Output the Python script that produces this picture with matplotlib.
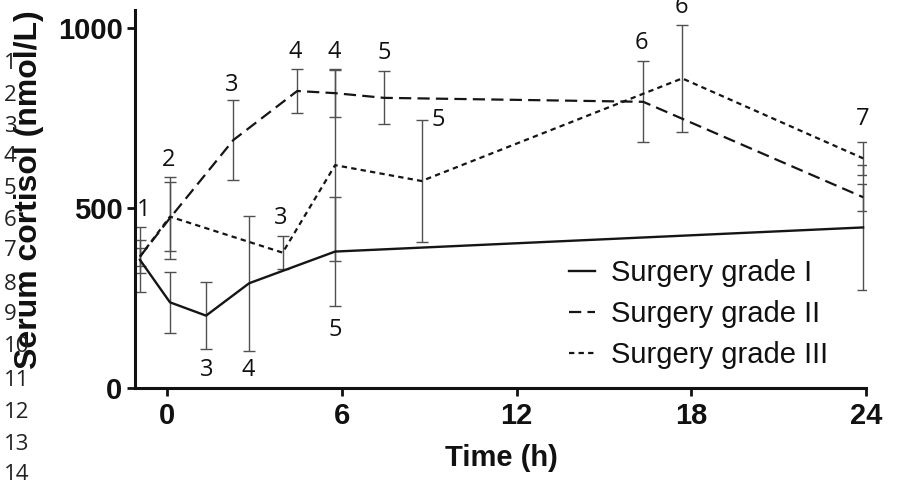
import matplotlib
matplotlib.use("Agg")
import matplotlib.pyplot as plt

# ---- data ----
time_g1 = [-0.93, 0.1, 1.34, 2.82, 5.77, 23.9]
mean_g1 = [356, 238, 201, 291, 379, 446]
err_g1 = [90, 85, 93, 188, 151, 174]

time_g2 = [-0.93, 0.1, 2.28, 4.47, 5.77, 7.45, 16.35, 23.9]
mean_g2 = [365, 472, 689, 825, 819, 806, 795, 530]
err_g2 = [45, 115, 110, 60, 67, 74, 113, 37]

time_g3 = [-0.93, 0.1, 3.97, 5.77, 8.74, 17.69, 23.9]
mean_g3 = [365, 476, 376, 619, 575, 860, 638]
err_g3 = [25, 95, 46, 265, 169, 149, 45]

series_names = ["Surgery grade I", "Surgery grade II", "Surgery grade III"]

label_text = ["1", "2", "3", "4", "4", "5", "5", "3", "3", "4", "5", "6", "6", "7"]
label_x = [-0.8, 0.05, 2.22, 4.4, 5.75, 7.45, 9.3, 3.9, 1.37, 2.78, 5.77, 16.3, 17.65, 23.9]
label_y = [495, 633, 842, 933, 933, 930, 744, 472, 50, 50, 161, 957, 1059, 746]

line_numbers = [str(i) for i in range(1, 15)]
line_number_y = [63, 95, 126, 157, 188, 220, 251, 284, 315, 347, 380, 413, 444, 475]

x_ticks = [0, 6, 12, 18, 24]
y_ticks = [0, 500, 1000]

# ---- figure ----
W, H = 899, 484
fig = plt.figure(figsize=(W / 100, H / 100), dpi=100)
ax = fig.add_axes([135 / W, 1 - 388 / H, (866 - 135) / W, (388 - 10) / H])

line_col = "#151515"
err_col = "#505050"

styles = [
    dict(linestyle="-", linewidth=1.7),
    dict(linestyle=(0, (5.5, 2.8)), linewidth=1.6),
    dict(linestyle=(0, (2.4, 1.9)), linewidth=1.6),
]
data = [(time_g1, mean_g1, err_g1), (time_g2, mean_g2, err_g2), (time_g3, mean_g3, err_g3)]

handles = []
for (t, m, e), st, name in zip(data, styles, series_names):
    ax.errorbar(t, m, yerr=e, fmt="none", ecolor=err_col, elinewidth=1.0,
                capsize=4, capthick=1.0, zorder=2)
    h, = ax.plot(t, m, color=line_col, label=name, zorder=3, **st)
    handles.append(h)

for s, x, y in zip(label_text, label_x, label_y):
    ax.text(x, y, s, ha="center", va="center", fontsize=17,
            family="Open Sans", color="#111111", clip_on=False)

ax.set_xlim(-1.1, 24)
ax.set_ylim(0, 1050)
ax.set_xticks(x_ticks)
ax.set_yticks(y_ticks)
ax.set_xticklabels([str(v) for v in x_ticks])
ax.set_yticklabels([str(v) for v in y_ticks])

for sp in ["top", "right"]:
    ax.spines[sp].set_visible(False)
for sp in ["left", "bottom"]:
    ax.spines[sp].set_linewidth(2.2)
    ax.spines[sp].set_color("#111111")

ax.tick_params(axis="both", direction="out", length=6, width=2.0, color="#111111")
ax.tick_params(axis="y", pad=3)
ax.tick_params(axis="x", pad=4)
for lab in ax.get_xticklabels() + ax.get_yticklabels():
    lab.set_fontfamily("Liberation Sans")
    lab.set_fontweight("bold")
    lab.set_fontsize(21)
    lab.set_color("#111111")

fig.text(501 / W, 1 - 458 / H, "Time (h)", ha="center", va="center",
         fontsize=21, fontweight="bold", family="Liberation Sans", color="#111111")

fig.text(29 / W, 1 - 190 / H, "Serum cortisol (nmol/L)", rotation=90,
         ha="center", va="center", fontsize=23, fontweight="bold",
         family="Liberation Sans", color="#111111")

for s, y in zip(line_numbers, line_number_y):
    fig.text(4 / W, 1 - y / H, s, ha="left", va="center", fontsize=16,
             family="Open Sans", color="#222222")

leg = ax.legend(handles=handles, loc="upper left",
                bbox_to_anchor=(569 / W, 1 - 259 / H), bbox_transform=fig.transFigure,
                frameon=False, fontsize=21, handlelength=0.9, handletextpad=0.55,
                labelspacing=0.45, borderpad=0, borderaxespad=0)
for t in leg.get_texts():
    t.set_fontfamily("Liberation Sans")
    t.set_color("#111111")

fig.savefig("out.png", dpi=100)
